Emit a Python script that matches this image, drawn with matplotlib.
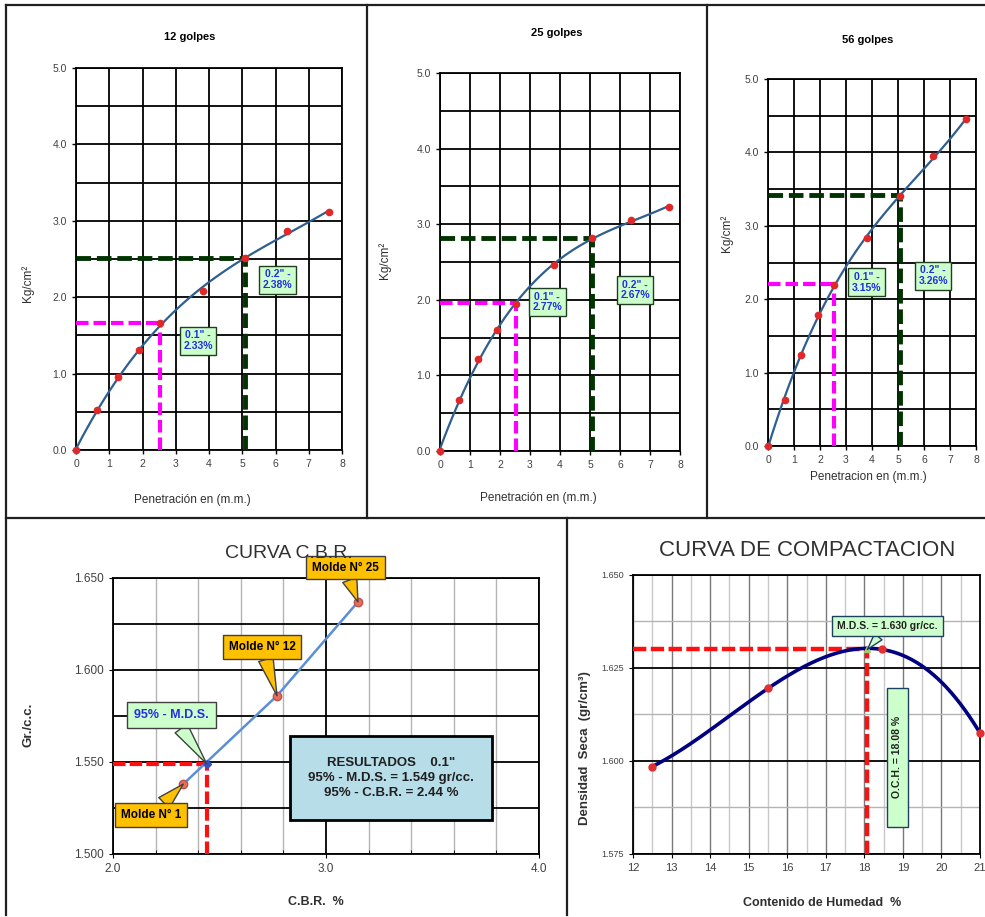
import numpy as np
import matplotlib
matplotlib.use("Agg")
import matplotlib.pyplot as plt
from matplotlib import font_manager
from matplotlib.lines import Line2D
from matplotlib.patches import Rectangle

W, H = 985, 917

# ---------------- data ----------------
penetracion = [0, 0.635, 1.27, 1.905, 2.54, 3.81, 5.08, 6.35, 7.62]
carga_12 = [0, 0.52, 0.96, 1.31, 1.66, 2.08, 2.51, 2.87, 3.12]
carga_25 = [0, 0.68, 1.22, 1.60, 1.94, 2.46, 2.82, 3.05, 3.23]
carga_56 = [0, 0.62, 1.24, 1.78, 2.19, 2.83, 3.40, 3.95, 4.45]
golpes = ["12 golpes", "25 golpes", "56 golpes"]
lectura_01 = [1.66, 1.96, 2.21]
lectura_02 = [2.51, 2.82, 3.42]
cbr_01 = ["2.33%", "2.77%", "3.15%"]
cbr_02 = ["2.38%", "2.67%", "3.26%"]
xlabels_top = ["Penetración en (m.m.)", "Penetración en (m.m.)", "Penetracion en (m.m.)"]

cbr_x = [2.33, 2.77, 3.15]
cbr_y = [1.538, 1.586, 1.637]
moldes = ["Molde N° 1", "Molde N° 12", "Molde N° 25"]
cbr_95 = 2.44
mds_95 = 1.549

humedad = [12.5, 15.5, 18.45, 21.0]
densidad = [1.5985, 1.6195, 1.6300, 1.6075]
och = 18.08
mds = 1.630

# ---------------- fonts ----------------
names = {f.name for f in font_manager.fontManager.ttflist}
base = "Liberation Sans" if "Liberation Sans" in names else "DejaVu Sans"
narrow = "Liberation Sans Narrow" if "Liberation Sans Narrow" in names else base
plt.rcParams["font.family"] = [base, "DejaVu Sans"]

fig = plt.figure(figsize=(W / 100, H / 100), dpi=100)


def add_axes_px(x0, y0, x1, y1):
    return fig.add_axes([x0 / W, 1 - y1 / H, (x1 - x0) / W, (y1 - y0) / H])


def ftext(px, py, s, **kw):
    fig.text(px / W, 1 - py / H, s, ha="center", va="center", **kw)


def fline(xs, ys, lw=1.6):
    fig.add_artist(Line2D([x / W for x in xs], [1 - y / H for y in ys],
                          color="#202020", lw=lw, transform=fig.transFigure))


# ---------------- panel borders ----------------
fline([6, 984], [5, 5])
fline([6, 6], [5, 915])
fline([6, 984], [518, 518])
fline([367, 367], [5, 518])
fline([707, 707], [5, 518])
fline([567, 567], [518, 915])

# ---------------- top: penetration curves ----------------
cargas = [carga_12, carga_25, carga_56]
ax_px = [(76, 68, 342, 450), (440, 73, 680, 451), (768, 79, 976, 446)]
title_px = [(190, 37), (557, 33), (868, 40)]
xlab_px = [(192, 500), (538, 498), (868, 477)]
ylab_px = [(28, 283), (385, 260), (727, 233)]
box01 = [(3.67, 1.43), (3.57, 1.97), (3.79, 2.23)]
box02 = [(6.06, 2.23), (6.50, 2.13), (6.35, 2.32)]

for i in range(3):
    ax = add_axes_px(*ax_px[i])
    ax.set_xlim(0, 8)
    ax.set_ylim(0, 5)
    ax.set_xticks(range(9))
    ax.set_yticks(np.arange(0, 5.01, 1.0))
    ax.set_yticks(np.arange(0.5, 5, 1.0), minor=True)
    ax.yaxis.set_major_formatter("{x:.1f}")
    ax.grid(which="both", color="black", lw=1.3)
    ax.set_axisbelow(True)
    ax.tick_params(which="major", labelsize=7.5, labelcolor="#404040", length=3, width=1)
    ax.tick_params(which="minor", length=0)
    for s in ax.spines.values():
        s.set_linewidth(1.3)

    coef = np.polyfit(penetracion, cargas[i], 3)
    xs = np.linspace(0, penetracion[-1], 120)
    ax.plot(xs, np.polyval(coef, xs), color="#2f5f8f", lw=1.6, zorder=4)

    l1, l2 = lectura_01[i], lectura_02[i]
    ax.plot([0, 2.54], [l1, l1], color="#ff00ff", lw=3, dashes=(3, 1.2), zorder=3)
    ax.plot([2.54, 2.54], [0, l1], color="#ff00ff", lw=3, dashes=(3, 1.2), zorder=3)
    ax.plot([0, 5.08], [l2, l2], color="#003300", lw=3.5, dashes=(3, 1.2), zorder=3)
    ax.plot([5.08, 5.08], [0, l2], color="#003300", lw=3.5, dashes=(3, 1.2), zorder=3)

    ax.plot(penetracion, cargas[i], "o", color="#e02828", ms=4.5, zorder=5, clip_on=False)

    bb = dict(boxstyle="square,pad=0.35", fc="#ccffcc", ec="#1f3f1f", lw=1)
    ax.text(*box01[i], '0.1" -\n' + cbr_01[i], ha="center", va="center", fontsize=7.5,
            fontweight="bold", color="#2030e0", bbox=bb, zorder=6, linespacing=1.1,
            family=[narrow, "DejaVu Sans"])
    ax.text(*box02[i], '0.2" -\n' + cbr_02[i], ha="center", va="center", fontsize=7.5,
            fontweight="bold", color="#2030e0", bbox=bb, zorder=6, linespacing=1.1,
            family=[narrow, "DejaVu Sans"])

    ftext(*title_px[i], golpes[i], fontsize=8, fontweight="bold")
    ftext(*xlab_px[i], xlabels_top[i], fontsize=8.5, color="#303030")
    ftext(*ylab_px[i], "Kg/cm²", fontsize=8.5, color="#303030", rotation=90)

# ---------------- bottom left: CBR curve ----------------
ax = add_axes_px(113, 578, 539, 854)
ax.set_xlim(2, 4)
ax.set_ylim(1.5, 1.65)
ax.set_xticks([2, 3, 4])
ax.set_xticks(np.arange(2.2, 4.0, 0.2), minor=True)
ax.xaxis.set_major_formatter("{x:.1f}")
ax.set_yticks([1.5, 1.55, 1.6, 1.65])
ax.set_yticks([1.525, 1.575, 1.625], minor=True)
ax.yaxis.set_major_formatter("{x:.3f}")
ax.xaxis.grid(True, which="major", color="black", lw=1.3)
ax.xaxis.grid(True, which="minor", color="#b4b4b4", lw=1)
ax.yaxis.grid(True, which="both", color="black", lw=1.3)
ax.set_axisbelow(True)
ax.tick_params(which="major", labelsize=8.5, labelcolor="#404040", length=3)
ax.tick_params(axis="x", which="minor", direction="in", length=3)
ax.tick_params(axis="y", which="minor", length=0)
for s in ax.spines.values():
    s.set_linewidth(1.3)

ax.plot([2, cbr_95], [mds_95, mds_95], color="#ff1010", lw=3, dashes=(3, 1), zorder=3)
ax.plot([cbr_95, cbr_95], [1.5, mds_95], color="#ff1010", lw=3, dashes=(3, 1), zorder=3)
ax.plot(cbr_x, cbr_y, color="#5b8fd4", lw=1.8, zorder=4)
ax.plot(cbr_x, cbr_y, "o", color="#e8705a", mec="#c0504d", ms=6, zorder=5)
ax.plot([cbr_95], [mds_95], "D", color="#3050d0", ms=4, zorder=5)

molde_txt = [(2.18, 1.521), (2.70, 1.6125), (3.09, 1.6557)]
for (tx, ty), m, px_, py_ in zip(molde_txt, moldes, cbr_x, cbr_y):
    ax.annotate(m, xy=(px_, py_), xytext=(tx, ty), ha="center", va="center",
                fontsize=8.5, fontweight="bold", family=[narrow, "DejaVu Sans"],
                bbox=dict(boxstyle="square,pad=0.5", fc="#ffc000", ec="#404040", lw=1),
                arrowprops=dict(arrowstyle="wedge,tail_width=0.9,shrink_factor=0.5",
                                fc="#ffc000", ec="#404040", lw=1, mutation_scale=12,
                                shrinkA=0, shrinkB=0),
                zorder=7, annotation_clip=False)

ax.annotate("95% - M.D.S.", xy=(cbr_95, mds_95), xytext=(2.275, 1.5755),
            ha="center", va="center", fontsize=9, fontweight="bold", color="#2030e0",
            family=[narrow, "DejaVu Sans"],
            bbox=dict(boxstyle="square,pad=0.55", fc="#ccffcc", ec="#404040", lw=1),
            arrowprops=dict(arrowstyle="wedge,tail_width=0.9,shrink_factor=0.5",
                            fc="#ccffcc", ec="#404040", lw=1, mutation_scale=12,
                            shrinkA=0, shrinkB=0),
            zorder=7, annotation_clip=False)

ax.add_patch(Rectangle((2.83, 1.5186), 0.95, 0.0454, fc="#b7dde8", ec="black", lw=2, zorder=6))
resultados = ('RESULTADOS    0.1"\n'
              f"95% - M.D.S. = {mds_95:.3f} gr/cc.\n"
              f"95% - C.B.R. = {cbr_95:.2f} %")
ax.text(3.305, 1.5413, resultados, ha="center", va="center", fontsize=9.5,
        fontweight="bold", color="#202020", family=[narrow, "DejaVu Sans"],
        linespacing=1.35, zorder=7)

ftext(289, 553, "CURVA C.B.R.", fontsize=14, color="#303030", family=[narrow, "DejaVu Sans"])
ftext(316, 902, "C.B.R.  %", fontsize=9, fontweight="bold", color="#303030")
ftext(28, 725, "Gr./c.c.", fontsize=9.5, fontweight="bold", color="#303030", rotation=90)

# ---------------- bottom right: compaction curve ----------------
ax = add_axes_px(633, 575, 980, 854)
ax.set_xlim(12, 21)
ax.set_ylim(1.575, 1.65)
ax.set_xticks(range(12, 22))
ax.set_xticks(np.arange(12.5, 21, 1.0), minor=True)
ax.set_yticks([1.575, 1.6, 1.625, 1.65])
ax.set_yticks([1.5875, 1.6125, 1.6375], minor=True)
ax.yaxis.set_major_formatter("{x:.3f}")
ax.xaxis.grid(True, which="major", color="#7a7a7a", lw=1)
ax.xaxis.grid(True, which="minor", color="#c8c8c8", lw=1)
ax.yaxis.grid(True, which="major", color="black", lw=1.3)
ax.yaxis.grid(True, which="minor", color="#b4b4b4", lw=1)
ax.set_axisbelow(True)
ax.tick_params(axis="x", which="major", labelsize=8, labelcolor="#404040", length=3)
ax.tick_params(axis="y", which="major", labelsize=6.5, labelcolor="#404040", length=3)
ax.tick_params(which="minor", length=0)
for s in ax.spines.values():
    s.set_linewidth(1.3)

ax.plot([12, och], [mds, mds], color="#ff1010", lw=3.2, dashes=(3, 1), zorder=3)
ax.plot([och, och], [1.575, mds], color="#ff1010", lw=3.2, dashes=(3, 1), zorder=3)
coef = np.polyfit(humedad, densidad, 3)
xs = np.linspace(humedad[0], humedad[-1], 150)
ax.plot(xs, np.polyval(coef, xs), color="#000080", lw=2.6, zorder=4)
ax.plot(humedad, densidad, "o", color="#e03030", ms=5, zorder=5, clip_on=False)
ax.plot([och], [mds], "^", color="#9acd70", ms=5, zorder=5)

ax.annotate(f"M.D.S. = {mds:.3f} gr/cc.", xy=(och, mds), xytext=(18.6, 1.6363),
            ha="center", va="center", fontsize=7.5, fontweight="bold", color="#202020",
            family=[narrow, "DejaVu Sans"],
            bbox=dict(boxstyle="square,pad=0.5", fc="#ccffcc", ec="#1f3f5f", lw=1),
            arrowprops=dict(arrowstyle="wedge,tail_width=0.7,shrink_factor=0.5",
                            fc="#ccffcc", ec="#1f3f5f", lw=1, mutation_scale=10,
                            shrinkA=0, shrinkB=0),
            zorder=7)

ax.add_patch(Rectangle((18.59, 1.5823), 0.54, 0.0373, fc="#ccffcc", ec="#1f3f5f", lw=1, zorder=6))
ax.text(18.86, 1.601, f"O.C.H. = {och:.2f} %", rotation=90, ha="center", va="center",
        fontsize=7.5, fontweight="bold", color="#202020", family=[narrow, "DejaVu Sans"], zorder=7)

ftext(807, 550, "CURVA DE COMPACTACION", fontsize=16, color="#303030", family=[narrow, "DejaVu Sans"])
ftext(822, 903, "Contenido de Humedad  %", fontsize=9, fontweight="bold", color="#303030")
ftext(585, 748, "Densidad  Seca  (gr/cm³)", fontsize=9.5, fontweight="bold", color="#303030",
      rotation=90)

fig.savefig("out.png", dpi=100)
